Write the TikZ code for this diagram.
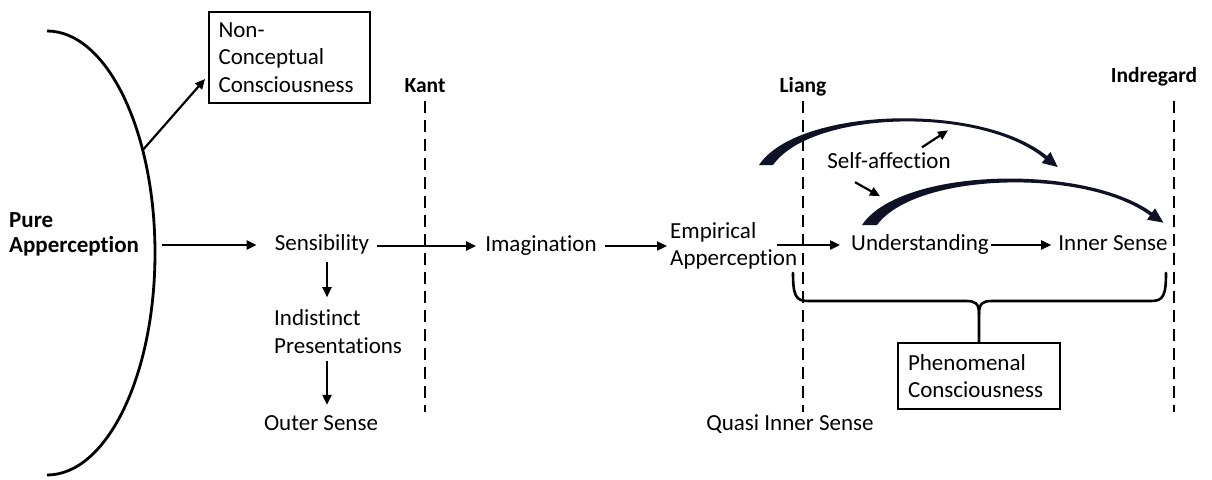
\documentclass[tikz,border=0pt]{standalone}
\usepackage{fontspec}
\setmainfont{Carlito}[Ligatures=NoCommon]
\usetikzlibrary{arrows.meta,calc}
\definecolor{swoopcol}{RGB}{14,18,36}
\begin{document}
\begin{tikzpicture}[x=1pt,y=-1pt,
  every node/.style={inner sep=0pt, font=\fontsize{23}{27.5}\selectfont},
  word/.style={text height=15pt, text depth=4pt},
  tag/.style={font=\fontsize{21.5}{26}\selectfont\bfseries, text height=14pt, text depth=4pt},
  framed/.style={draw, line width=2.6pt, align=left, text width=142pt},
  flow/.style={line width=2.2pt, -{Triangle[length=10pt,width=9pt]}},
  divider/.style={line width=2.8pt, dash pattern=on 12pt off 7pt},
  bowline/.style={line width=2.8pt},
  bracket/.style={line width=2.6pt, line join=round, line cap=round},
  swoop/.style={fill=swoopcol}
]
\useasboundingbox (0,0) rectangle (1212,479);

% --- text nodes ---
\node[anchor=west, align=left, font=\fontsize{23}{25}\selectfont\bfseries] (pure) at (9,234.5) {Pure\\Apperception};
\node[framed, minimum width=161pt, minimum height=91pt] (noncon) at (289.5,57.5) {Non-\\Conceptual\\Consciousness};
\node[word] (sens) at (322,245) {Sensibility};
\node[anchor=west, align=left] (indist) at (274,331.75) {Indistinct\\Presentations};
\node[word] (outer) at (321,425) {Outer Sense};
\node[word] (imag) at (541,246) {Imagination};
\node[anchor=west, align=left] (emp) at (670,245.75) {Empirical\\Apperception};
\node[word] (und) at (920,245) {Understanding};
\node[word] (inner) at (1113,245) {Inner Sense};
\node[word] (quasi) at (790,425) {Quasi Inner Sense};
\node[word] (selfaff) at (889,163) {Self-affection};
\node[framed, minimum width=162pt, minimum height=66pt] (phen) at (979,376) {Phenomenal\\Consciousness};

\node[tag] (kant) at (425,87) {Kant};
\node[tag] (liang) at (803,87) {Liang};
\node[tag] (indre) at (1154,77) {Indregard};

% --- dashed dividers ---
\draw[divider, shorten <=5pt, shorten >=3.5pt] (kant.south) -- (kant.south |- quasi.north);
\draw[divider, shorten <=5pt, shorten >=3.5pt] (liang.south) -- (liang.south |- quasi.north);
\coordinate (indrefoot) at ([xshift=20pt]indre.south);
\draw[divider, shorten <=15pt, shorten >=3.5pt] (indrefoot) -- (indrefoot |- quasi.north);

% --- the large bow on the left ---
\draw[bowline] (47,31) arc[start angle=-90, end angle=90, x radius=108, y radius=222];
\coordinate (bowpt) at ($(47,253)+(-27.6:108 and 222)$);
\draw[flow, shorten >=4pt] (bowpt) -- ([yshift=-18.5pt]noncon.west);

% --- main chain ---
\draw[flow, shorten <=23pt, shorten >=18pt] (pure.east |- sens.west) -- (sens.west);
\draw[flow, shorten <=8pt, shorten >=9pt] (imag.west -| sens.east) -- (imag.west);
\draw[flow, shorten <=8pt, shorten >=3pt] (imag.east) -- (imag.east -| emp.west);
\draw[flow, shorten <=-20pt, shorten >=11pt] (emp.east |- und.west) -- (und.west);
\draw[flow, shorten <=2pt, shorten >=7pt] (und.east) -- (inner.west);

% --- downward chain ---
\coordinate (sensfoot) at ([xshift=5pt]sens.south);
\draw[flow, shorten <=7.5pt, shorten >=12.5pt] (sensfoot) -- (sensfoot |- indist.north);
\draw[flow, shorten <=7pt, shorten >=10.5pt] (sensfoot |- indist.south) -- (sensfoot |- outer.north);

% --- curved self-affection arrows ---
\fill[swoop] (759,165) .. controls (797,108) and (979,101) .. (1047,156)
  -- (1050.4,152) -- (1057.7,167) -- (1041.6,163) -- (1045,159)
  .. controls (982,106) and (812,110) .. (773,165) -- cycle;
\fill[swoop] (862,225) .. controls (900,168) and (1083,163) .. (1152,212.5)
  -- (1155,208.3) -- (1163.3,222.6) -- (1147,219.7) -- (1150,215.5)
  .. controls (1086,168) and (916,172) .. (877,225) -- cycle;
\draw[flow] (selfaff.north) ++(33,-6) -- ++(26,-17);
\draw[flow] (selfaff.south) ++(-34,9.5) -- ++(25,14);

% --- brace gathering into phenomenal consciousness ---
\coordinate (bl) at (793,273);
\coordinate (br) at (1166,273);
\draw[bracket] (bl) .. controls (793,296) and (796,301) .. (808,301) -- (966,301)
  .. controls (975,301) and (979,303) .. (979,314) -- (phen.north);
\draw[bracket] (br) .. controls (1166,296) and (1163,301) .. (1151,301) -- (992,301)
  .. controls (983,301) and (979,303) .. (979,314);
\end{tikzpicture}
\end{document}
